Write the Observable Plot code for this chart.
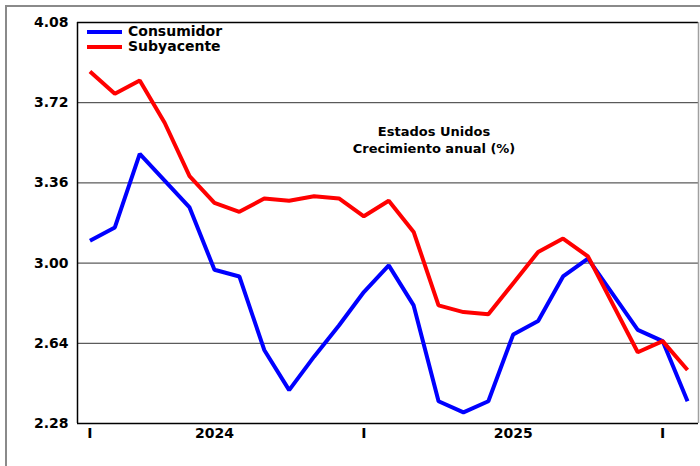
<!DOCTYPE html>
<html>
<head>
<meta charset="utf-8">
<script src="https://cdn.jsdelivr.net/npm/d3@7"></script>
<script src="https://cdn.jsdelivr.net/npm/@observablehq/plot@0.6"></script>
<style>
  html, body { margin: 0; padding: 0; background: #fff; }
  #wrap { position: relative; width: 700px; height: 466px; overflow: hidden; font-family: "DejaVu Sans", sans-serif; font-weight: bold; color: #000; }
  #outer { position: absolute; left: 5px; top: 5px; right: -5px; bottom: -5px; border-left: 2px solid #8a8a8a; border-top: 2px solid #8a8a8a; pointer-events: none; }
  #legend { position: absolute; left: 87px; top: 24px; font-size: 14px; line-height: 15px; }
  #legend .row { display: flex; align-items: center; height: 15px; }
  #legend .sw { width: 35px; height: 4px; margin-right: 6px; }
  #title { position: absolute; left: 334px; width: 200px; top: 123px; text-align: center; font-size: 13px; line-height: 17px; }
</style>
</head>
<body>
<div id="wrap">
  <div id="chart"></div>
  <div id="outer"></div>
  <div id="legend"></div>
  <div id="title">Estados Unidos<br>Crecimiento anual (%)</div>
</div>
<script>
// Months (Jan 2024 – Jan 2026); Oct 2025 has no data
const months = ["2024-01","2024-02","2024-03","2024-04","2024-05","2024-06","2024-07","2024-08","2024-09","2024-10","2024-11","2024-12",
                "2025-01","2025-02","2025-03","2025-04","2025-05","2025-06","2025-07","2025-08","2025-09","2025-10","2025-11","2025-12",
                "2026-01"];
const consumidor = [3.10, 3.16, 3.49, 3.37, 3.25, 2.97, 2.94, 2.61, 2.43, 2.58, 2.72, 2.87,
                    2.99, 2.81, 2.38, 2.33, 2.38, 2.68, 2.74, 2.94, 3.02, null, 2.70, 2.65,
                    2.38];
const subyacente = [3.86, 3.76, 3.82, 3.63, 3.39, 3.27, 3.23, 3.29, 3.28, 3.30, 3.29, 3.21,
                    3.28, 3.14, 2.81, 2.78, 2.77, 2.91, 3.05, 3.11, 3.03, null, 2.60, 2.65,
                    2.52];
const seriesNames = ["Consumidor", "Subyacente"];
const seriesColors = ["#0000ff", "#ff0000"];
const yTicks = [2.28, 2.64, 3.00, 3.36, 3.72, 4.08];
const xTickPos = [0, 5, 11, 17, 23];
const xTickLabels = ["I", "2024", "I", "2025", "I"];

const rows = [];
[consumidor, subyacente].forEach((vals, s) => {
  vals.forEach((v, i) => {
    if (v != null) rows.push({i, month: months[i], v, serie: seriesNames[s]});
  });
});

const xDomain = [-0.5, 24.44];
const yDomain = [yTicks[0], yTicks[yTicks.length - 1]];

const chart = Plot.plot({
  width: 700,
  height: 466,
  marginLeft: 77,
  marginRight: 2,
  marginTop: 22,
  marginBottom: 43,
  style: {fontFamily: "DejaVu Sans, sans-serif", fontSize: "14px", fontWeight: "bold", color: "#000", background: "transparent"},
  x: {domain: xDomain, axis: null, label: null},
  y: {domain: yDomain, axis: null, label: null},
  color: {domain: seriesNames, range: seriesColors},
  marks: [
    Plot.ruleY(yTicks.slice(1, -1), {stroke: "#333", strokeWidth: 1}),
    Plot.ruleY(yDomain, {stroke: "#000", strokeWidth: 1.5}),
    Plot.ruleX([xDomain[0]], {stroke: "#000", strokeWidth: 1.5}),
    Plot.ruleX([xDomain[1]], {stroke: "#a0a0a0", strokeWidth: 1.5}),
    Plot.line(rows, {x: "i", y: "v", z: "serie", stroke: "serie", strokeWidth: 4, strokeLinejoin: "miter", strokeLinecap: "butt"}),
    Plot.axisY({ticks: yTicks, tickFormat: d => d.toFixed(2), tickSize: 0, tickPadding: 9, fontSize: 14, fontWeight: "bold", label: null}),
    Plot.axisX({ticks: xTickPos, tickFormat: (d) => xTickLabels[xTickPos.indexOf(d)], tickSize: 0, tickPadding: 5, fontSize: 14, fontWeight: "bold", label: null})
  ]
});
document.getElementById("chart").appendChild(chart);

const legend = document.getElementById("legend");
seriesNames.forEach((n, k) => {
  const row = document.createElement("div");
  row.className = "row";
  const sw = document.createElement("div");
  sw.className = "sw";
  sw.style.background = seriesColors[k];
  const t = document.createElement("span");
  t.textContent = n;
  row.appendChild(sw);
  row.appendChild(t);
  legend.appendChild(row);
});
</script>
</body>
</html>
